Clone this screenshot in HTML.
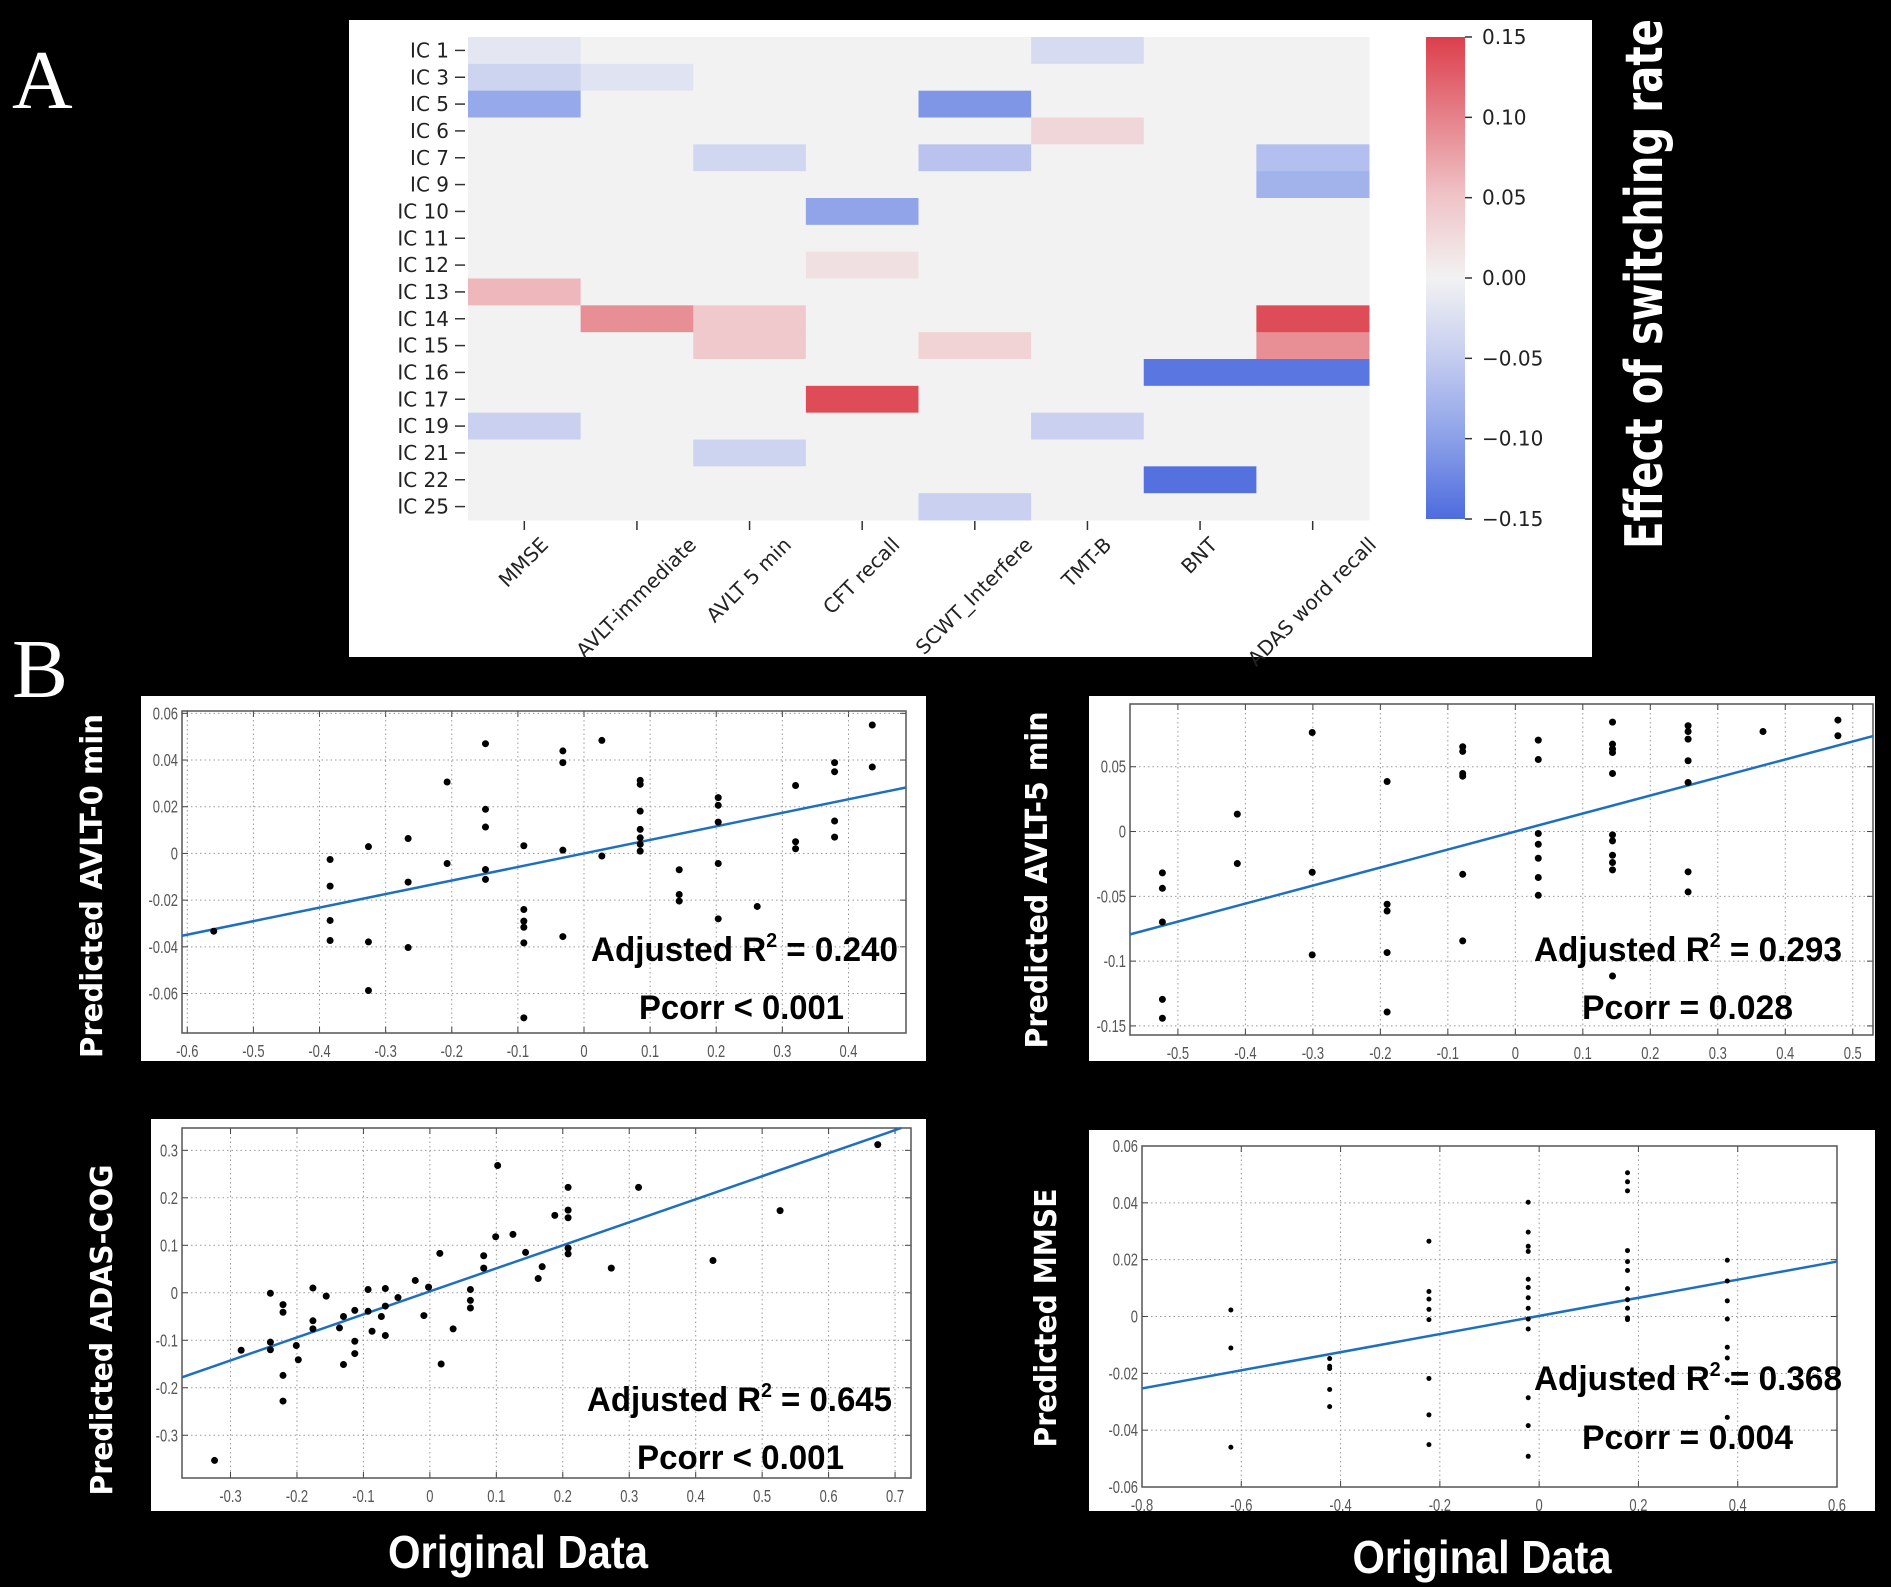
<!DOCTYPE html>
<html><head><meta charset="utf-8">
<style>
html,body{margin:0;padding:0;background:#000;}
svg{display:block;}
</style></head>
<body>
<svg id="fig" xmlns="http://www.w3.org/2000/svg" width="1891" height="1587" viewBox="0 0 1891 1587">
<rect x="0" y="0" width="1891" height="1587" fill="#000"/>
<text x="12" y="108" font-family="Liberation Serif, serif" font-size="84" fill="#fff">A</text>
<text x="12" y="697" font-family="Liberation Serif, serif" font-size="84" fill="#fff">B</text>
<rect x="349" y="20" width="1243" height="637" fill="#fff"/>
<g id="heat"></g>
<g id="cbar"></g>
<text transform="translate(1662,284) rotate(-90)" text-anchor="middle" font-family="DejaVu Sans, sans-serif" font-weight="bold" font-size="52" fill="#fff" textLength="530" lengthAdjust="spacingAndGlyphs">Effect of switching  rate</text>
<g id="b1"></g>
<g id="b2"></g>
<g id="b3"></g>
<g id="b4"></g>
<text x="518" y="1568" text-anchor="middle" font-family="Liberation Sans, sans-serif" font-weight="bold" font-size="46" fill="#fff" textLength="260" lengthAdjust="spacingAndGlyphs">Original Data</text>
<text x="1482" y="1573" text-anchor="middle" font-family="Liberation Sans, sans-serif" font-weight="bold" font-size="46" fill="#fff" textLength="259" lengthAdjust="spacingAndGlyphs">Original Data</text>
</svg>
<script>
// ---------- Heatmap data ----------
const heatRows = ["IC 1","IC 3","IC 5","IC 6","IC 7","IC 9","IC 10","IC 11","IC 12","IC 13","IC 14","IC 15","IC 16","IC 17","IC 19","IC 21","IC 22","IC 25"];
const heatCols = ["MMSE","AVLT-immediate","AVLT 5 min","CFT recall","SCWT_Interfere","TMT-B","BNT","ADAS word recall"];
const heatValues = [
 [-0.015,0,0,0,0,-0.03,0,0],
 [-0.04,-0.02,0,0,0,0,0,0],
 [-0.09,0,0,0,-0.11,0,0,0],
 [0,0,0,0,0,0.03,0,0],
 [0,0,-0.035,0,-0.06,0,0,-0.065],
 [0,0,0,0,0,0,0,-0.08],
 [0,0,0,-0.095,0,0,0,0],
 [0,0,0,0,0,0,0,0],
 [0,0,0,0.02,0,0,0,0],
 [0.06,0,0,0,0,0,0,0],
 [0,0.09,0.045,0,0,0,0,0.14],
 [0,0,0.045,0,0.035,0,0,0.09],
 [0,0,0,0,0,0,-0.14,-0.14],
 [0,0,0,0.14,0,0,0,0],
 [-0.045,0,0,0,0,-0.045,0,0],
 [0,0,-0.04,0,0,0,0,0],
 [0,0,0,0,0,0,-0.145,0],
 [0,0,0,0,-0.045,0,0,0]
];
const cbarTicks = [0.15,0.10,0.05,0.00,-0.05,-0.10,-0.15];

// ---------- Scatter data ----------
const b1X = [-0.56,-0.384,-0.384,-0.384,-0.384,-0.326,-0.326,-0.326,-0.266,-0.266,-0.266,-0.207,-0.207,-0.149,-0.149,-0.149,-0.149,-0.149,-0.091,-0.091,-0.091,-0.091,-0.091,-0.091,-0.032,-0.032,-0.032,-0.032,0.027,0.027,0.085,0.085,0.085,0.085,0.085,0.085,0.085,0.144,0.144,0.144,0.203,0.203,0.203,0.203,0.203,0.262,0.320,0.320,0.320,0.379,0.379,0.379,0.379,0.436,0.436];
const b1Y = [-0.0333,-0.0026,-0.014,-0.0287,-0.0373,0.0029,-0.0379,-0.0587,0.0064,-0.0123,-0.0403,0.0306,-0.0043,0.047,0.0189,0.0113,-0.0069,-0.0111,0.0033,-0.024,-0.029,-0.0316,-0.0383,-0.0704,0.0439,0.0389,0.0014,-0.0356,0.0484,-0.0011,0.0313,0.0296,0.0181,0.0103,0.0067,0.0039,0.001,-0.007,-0.0176,-0.0204,0.0239,0.0206,0.0134,-0.0043,-0.028,-0.0227,0.0291,0.005,0.002,0.0389,0.035,0.0139,0.007,0.055,0.037];
const b1Fit = [0.058, 0.0];
const b1XTicks = [-0.6,-0.5,-0.4,-0.3,-0.2,-0.1,0,0.1,0.2,0.3,0.4];
const b1YTicks = [-0.06,-0.04,-0.02,0,0.02,0.04,0.06];

const b2X = [-0.523,-0.523,-0.523,-0.523,-0.523,-0.412,-0.412,-0.301,-0.301,-0.301,-0.190,-0.190,-0.190,-0.190,-0.190,-0.078,-0.078,-0.078,-0.078,-0.078,-0.078,0.034,0.034,0.034,0.034,0.034,0.034,0.034,0.144,0.144,0.144,0.144,0.144,0.144,0.144,0.144,0.144,0.144,0.144,0.256,0.256,0.256,0.256,0.256,0.256,0.256,0.367,0.478,0.478];
const b2Y = [-0.0319,-0.0438,-0.0698,-0.1295,-0.1441,0.0134,-0.0247,0.0764,-0.0314,-0.0952,0.0386,-0.0561,-0.0613,-0.0934,-0.1393,0.0654,0.0618,0.0448,0.0427,-0.033,-0.0844,0.0705,0.0556,-0.0015,-0.0098,-0.0206,-0.0355,-0.0492,0.0844,0.0674,0.0636,0.061,0.0448,-0.0026,-0.0072,-0.0183,-0.0239,-0.0296,-0.1115,0.0816,0.0772,0.0713,0.0546,0.0378,-0.0311,-0.0466,0.0772,0.086,0.0739];
const b2Fit = [0.139, 0.0];
const b2XTicks = [-0.5,-0.4,-0.3,-0.2,-0.1,0,0.1,0.2,0.3,0.4,0.5];
const b2YTicks = [-0.15,-0.1,-0.05,0,0.05];

const b3X = [-0.324,-0.284,-0.240,-0.240,-0.240,-0.221,-0.221,-0.221,-0.221,-0.201,-0.198,-0.176,-0.176,-0.176,-0.156,-0.136,-0.130,-0.130,-0.113,-0.113,-0.113,-0.093,-0.093,-0.087,-0.073,-0.067,-0.067,-0.067,-0.048,-0.022,-0.009,-0.002,0.015,0.017,0.035,0.061,0.061,0.061,0.081,0.081,0.099,0.102,0.125,0.144,0.163,0.169,0.188,0.208,0.208,0.208,0.208,0.208,0.273,0.314,0.426,0.527,0.674];
const b3Y = [-0.353,-0.121,-0.001,-0.104,-0.120,-0.025,-0.041,-0.174,-0.228,-0.111,-0.141,0.010,-0.059,-0.076,-0.007,-0.074,-0.050,-0.151,-0.037,-0.102,-0.128,0.007,-0.039,-0.081,-0.050,0.009,-0.028,-0.090,-0.010,0.026,-0.048,0.012,0.083,-0.150,-0.076,0.007,-0.016,-0.032,0.078,0.052,0.118,0.268,0.123,0.085,0.030,0.055,0.163,0.222,0.174,0.158,0.094,0.082,0.052,0.222,0.068,0.173,0.312];
const b3Fit = [0.485, 0.003];
const b3XTicks = [-0.3,-0.2,-0.1,0,0.1,0.2,0.3,0.4,0.5,0.6,0.7];
const b3YTicks = [-0.3,-0.2,-0.1,0,0.1,0.2,0.3];

const b4X = [-0.621,-0.621,-0.621,-0.422,-0.422,-0.422,-0.422,-0.422,-0.222,-0.222,-0.222,-0.222,-0.222,-0.222,-0.222,-0.222,-0.022,-0.022,-0.022,-0.022,-0.022,-0.022,-0.022,-0.022,-0.022,-0.022,-0.022,-0.022,-0.022,0.178,0.178,0.178,0.178,0.178,0.178,0.178,0.178,0.178,0.178,0.178,0.379,0.379,0.379,0.379,0.379,0.379,0.379,0.379];
const b4Y = [0.0023,-0.0111,-0.046,-0.0148,-0.0175,-0.0183,-0.0257,-0.0317,0.0265,0.0088,0.0061,0.0025,-0.0011,-0.0218,-0.0346,-0.0451,0.0402,0.0297,0.0247,0.0229,0.0131,0.0102,0.0066,0.0029,-0.0009,-0.0044,-0.0286,-0.0384,-0.0492,0.0506,0.0474,0.0442,0.0232,0.0193,0.0162,0.0098,0.0059,0.0029,-0.0005,-0.0011,0.0198,0.0125,0.0055,-0.0009,-0.0108,-0.0146,-0.0224,-0.0355];
const b4Fit = [0.0319, 0.0002];
const b4XTicks = [-0.8,-0.6,-0.4,-0.2,0,0.2,0.4,0.6];
const b4YTicks = [-0.06,-0.04,-0.02,0,0.02,0.04,0.06];

const NS = "http://www.w3.org/2000/svg";
function mk(tag, attrs, parent){
  const e = document.createElementNS(NS, tag);
  for (const k in attrs) e.setAttribute(k, attrs[k]);
  parent.appendChild(e);
  return e;
}

// ---------- colormap ----------
const cmStops = [[-0.15,[78,108,222]],[-0.10,[139,160,232]],[-0.05,[196,204,240]],[0,[242,242,242]],[0.05,[240,196,200]],[0.10,[230,130,138]],[0.15,[220,62,76]]];
function cmap(v){
  v = Math.max(-0.15, Math.min(0.15, v));
  for (let i=0;i<cmStops.length-1;i++){
    const a=cmStops[i], b=cmStops[i+1];
    if (v>=a[0] && v<=b[0]){
      const t=(v-a[0])/(b[0]-a[0]);
      const c=a[1].map((x,j)=>Math.round(x+(b[1][j]-x)*t));
      return "rgb("+c.join(",")+")";
    }
  }
  return "rgb(242,242,242)";
}

// ---------- heatmap ----------
(function(){
  const g = document.getElementById("heat");
  const L=468, R=1369, T=37, B=520;
  const cw=(R-L)/heatCols.length, rh=(B-T)/heatRows.length;
  heatRows.forEach((rn,i)=>{
    heatCols.forEach((cn,j)=>{
      const r = mk("rect",{x:L+j*cw,y:T+i*rh,width:cw+0.5,height:rh+0.5,fill:cmap(heatValues[i][j])},g);
      
      
    });
    const cy=T+(i+0.5)*rh;
    const tk = mk("line",{x1:455,x2:465,y1:cy,y2:cy,stroke:"#333","stroke-width":1.5},g);
    
    
    const t = mk("text",{x:449,y:cy+7,"text-anchor":"end","font-family":"DejaVu Sans, sans-serif","font-size":20,fill:"#222"},g);
    t.textContent=rn;
    
    
  });
  heatCols.forEach((cn,j)=>{
    const cx=L+(j+0.5)*cw;
    const tk = mk("line",{x1:cx,x2:cx,y1:521,y2:530,stroke:"#333","stroke-width":1.5},g);
    
    
    const t = mk("text",{"text-anchor":"end","font-family":"DejaVu Sans, sans-serif","font-size":20,fill:"#222"},g);
    t.textContent=cn;
    
    
    const len=t.getComputedTextLength();
    const ex=cx+len*0.354+4, ey=546;
    t.setAttribute("transform","translate("+ex+","+ey+") rotate(-45)");
  });
})();

// ---------- colorbar ----------
(function(){
  const g=document.getElementById("cbar");
  const x=1426,w=39,T=37,B=519;
  const defs=mk("defs",{},g);
  const grad=mk("linearGradient",{id:"cbg",x1:0,y1:0,x2:0,y2:1},defs);
  for(let k=0;k<=30;k++){
    const v=0.15-k*0.01;
    mk("stop",{offset:(k/30),"stop-color":cmap(v)},grad);
  }
  const r=mk("rect",{x:x,y:T,width:w,height:B-T,fill:"url(#cbg)"},g);
  
  
  cbarTicks.forEach(v=>{
    const y=T+(0.15-v)/0.30*(B-T);
    mk("line",{x1:x+w,x2:x+w+7,y1:y,y2:y,stroke:"#333","stroke-width":1.5},g);
    const t=mk("text",{x:x+w+17,y:y+7,"font-family":"DejaVu Sans, sans-serif","font-size":20,fill:"#222"},g);
    t.textContent=(v<0?"\u2212":"")+Math.abs(v).toFixed(2);
    
    
  });
})();

// ---------- scatter ----------
function fmt(v){
  if (Math.abs(v)<1e-9) return "0";
  return String(Math.round(v*100)/100);
}
function scatter(id,cfg,xs,ys,fit,xt,yt){
  const g=document.getElementById(id);
  const bx=mk("rect",{x:cfg.box[0],y:cfg.box[1],width:cfg.box[2],height:cfg.box[3],fill:"#fff"},g);
  
  
  const [L,T,R,B]=cfg.plot;
  const sx=v=>L+(v-cfg.xd[0])/(cfg.xd[1]-cfg.xd[0])*(R-L);
  const sy=v=>B-(v-cfg.yd[0])/(cfg.yd[1]-cfg.yd[0])*(B-T);
  xt.forEach(v=>{
    const x=sx(v);
    mk("line",{x1:x,x2:x,y1:T,y2:B,stroke:"#999","stroke-width":1,"stroke-dasharray":"1.5,3"},g);
    mk("line",{x1:x,x2:x,y1:B,y2:B-6,stroke:"#444","stroke-width":1},g);
    mk("line",{x1:x,x2:x,y1:T,y2:T+6,stroke:"#444","stroke-width":1},g);
    const t=mk("text",{x:x,y:B+24,"text-anchor":"middle","font-family":"Liberation Sans, sans-serif","font-size":18,fill:"#555",transform:"translate("+x+",0) scale(0.72,1) translate("+(-x)+",0)"},g);
    t.textContent=fmt(v);
    
    
  });
  yt.forEach(v=>{
    const y=sy(v);
    mk("line",{x1:L,x2:R,y1:y,y2:y,stroke:"#999","stroke-width":1,"stroke-dasharray":"1.5,3"},g);
    mk("line",{x1:L,x2:L+6,y1:y,y2:y,stroke:"#444","stroke-width":1},g);
    mk("line",{x1:R,x2:R-6,y1:y,y2:y,stroke:"#444","stroke-width":1},g);
    const xx=L-4;
    const t=mk("text",{x:xx,y:y+6,"text-anchor":"end","font-family":"Liberation Sans, sans-serif","font-size":18,fill:"#555",transform:"translate("+xx+",0) scale(0.72,1) translate("+(-xx)+",0)"},g);
    t.textContent=fmt(v);
    
    
  });
  const ax=mk("rect",{x:L,y:T,width:R-L,height:B-T,fill:"none",stroke:"#555","stroke-width":1.5},g);
  
  
  const x0=cfg.xd[0], x1=cfg.xd[1];
  let ya=fit[0]*x0+fit[1], yb=fit[0]*x1+fit[1];
  let xa=x0, xb=x1;
  if (yb>cfg.yd[1]){ xb=(cfg.yd[1]-fit[1])/fit[0]; yb=cfg.yd[1]; }
  const ln=mk("line",{x1:sx(xa),y1:sy(ya),x2:sx(xb),y2:sy(yb),stroke:"#1f6fc0","stroke-width":2.5},g);
  
  
  xs.forEach((xv,i)=>{
    const c=mk("circle",{cx:sx(xv),cy:sy(ys[i]),r:cfg.r,fill:"#000"},g);
    
    
  });
  const a1=mk("text",{x:cfg.ann[0],y:cfg.ann[1],"font-family":"Liberation Sans, sans-serif","font-weight":"bold","font-size":34,fill:"#000",textLength:cfg.ann[2]-cfg.ann[0],lengthAdjust:"spacingAndGlyphs"},g);
  a1.innerHTML='Adjusted R<tspan font-size="20" dy="-14">2</tspan><tspan dy="14"> = '+cfg.r2+'</tspan>';
  
  
  const a2=mk("text",{x:cfg.p[0],y:cfg.p[1],"font-family":"Liberation Sans, sans-serif","font-weight":"bold","font-size":34,fill:"#000",textLength:cfg.p[2]-cfg.p[0],lengthAdjust:"spacingAndGlyphs"},g);
  a2.textContent=cfg.pt;
  
  
  const yl=mk("text",{transform:"translate("+cfg.yl[0]+","+cfg.yl[1]+") rotate(-90)","text-anchor":"middle","font-family":"DejaVu Sans, sans-serif","font-weight":"bold","font-size":30,fill:"#fff",textLength:cfg.yl[2],lengthAdjust:"spacingAndGlyphs"},g);
  yl.textContent=cfg.ylt;
  
  
}

scatter("b1",{box:[141,696,785,365],plot:[182,711,906,1033],xd:[-0.608,0.487],yd:[-0.0769,0.061],r:3.5,
  ann:[591,961,898],r2:"0.240",p:[639,1019,844],pt:"Pcorr < 0.001",yl:[102,886,344],ylt:"Predicted AVLT-0 min"},b1X,b1Y,b1Fit,b1XTicks,b1YTicks);
scatter("b2",{box:[1089,696,786,365],plot:[1130,704,1873,1035],xd:[-0.571,0.530],yd:[-0.157,0.0984],r:3.5,
  ann:[1534,961,1842],r2:"0.293",p:[1582,1019,1793],pt:"Pcorr = 0.028",yl:[1047,880,337],ylt:"Predicted AVLT-5 min"},b2X,b2Y,b2Fit,b2XTicks,b2YTicks);
scatter("b3",{box:[151,1119,775,392],plot:[182,1128,911,1478],xd:[-0.373,0.724],yd:[-0.39,0.347],r:3.5,
  ann:[587,1411,892],r2:"0.645",p:[637,1469,844],pt:"Pcorr < 0.001",yl:[112,1330,331],ylt:"Predicted ADAS-COG"},b3X,b3Y,b3Fit,b3XTicks,b3YTicks);
scatter("b4",{box:[1089,1130,786,381],plot:[1142,1146,1837,1487],xd:[-0.8,0.6],yd:[-0.06,0.06],r:2.5,
  ann:[1534,1390,1842],r2:"0.368",p:[1582,1449,1793],pt:"Pcorr = 0.004",yl:[1056,1318,259],ylt:"Predicted MMSE"},b4X,b4Y,b4Fit,b4XTicks,b4YTicks);
</script>
</body></html>
